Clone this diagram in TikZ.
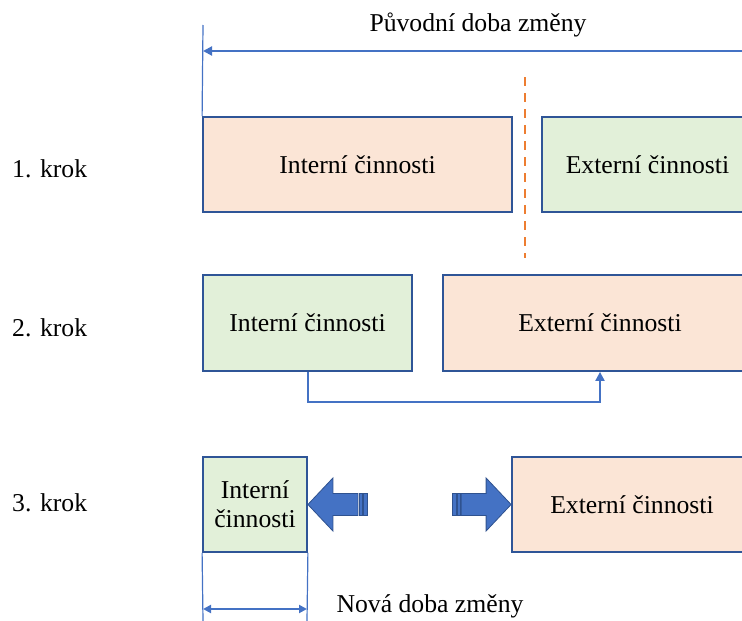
\documentclass[tikz,border=0pt]{standalone}
\usepackage{fontspec}
\setmainfont{Liberation Serif}
\newfontfamily\diagfont{Liberation Serif}
\usetikzlibrary{arrows.meta,calc}

\definecolor{boxline}{HTML}{2F5597}
\definecolor{conn}{HTML}{4472C4}
\definecolor{arrowline}{HTML}{2F528F}
\definecolor{fillorange}{HTML}{FBE5D6}
\definecolor{fillgreen}{HTML}{E2F0D9}
\definecolor{cut}{HTML}{ED7D31}

\tikzset{
  every node/.style={font=\diagfont\fontsize{25.7}{29}\selectfont, text=black},
  box/.style={draw=boxline, line width=1.8pt, inner sep=0pt, align=center},
  internal/.style={box, fill=fillorange},
  external/.style={box, fill=fillgreen},
  steplabel/.style={anchor=west, inner sep=0pt},
  link/.style={draw=conn, line width=2pt},
  guide/.style={draw=conn, line width=1.2pt},
  tip/.style={-{Triangle[length=9pt,width=9pt]}},
  blockarrow/.pic={
    \path[fill=conn, draw=arrowline, line width=0.8pt, line join=miter]
      (0,0) -- (25,-26.5) -- (25,-11) -- (50,-11) -- (50,11) -- (25,11) -- (25,26.5) -- cycle;
    \path[fill=conn, draw=arrowline, line width=0.8pt] (51,-11) rectangle (54,11);
    \path[fill=conn, draw=arrowline, line width=0.8pt] (55,-11) rectangle (59,11);
  }
}

\begin{document}
\begin{tikzpicture}[x=1pt, y=-1pt]
  \useasboundingbox (0,0) rectangle (742,621);

  % step labels
  \node[steplabel] (k1) at (12,169) {1. krok};
  \node[steplabel] (k2) at (12,328) {2. krok};
  \node[steplabel] (k3) at (12,503) {3. krok};

  % step 1
  \node[internal, minimum width=309, minimum height=95] (int1) at (357.5,164.5) {Interní činnosti};
  \node[external, minimum width=211, minimum height=95] (ext1) at (647.5,164.5) {Externí činnosti};

  % step 2
  \node[external, minimum width=209, minimum height=96] (int2) at (307.5,323) {Interní činnosti};
  \node[internal, minimum width=314, minimum height=96] (ext2) at (600,323) {Externí činnosti};

  % step 3
  \node[external, minimum width=104, minimum height=95] (int3) at (255,504.5) {Interní\\činnosti};
  \node[internal, minimum width=240, minimum height=95] (ext3) at (632,504.5) {Externí činnosti};

  % original changeover time
  \coordinate (origtop) at (203,25);
  \coordinate (origright) at (745,51);
  \coordinate (origleft) at (203,51);
  \node (orig) at (478,25) {Původní doba změny};
  \draw[guide] (origtop) -- (int1.north west);
  \draw[link, tip] (origright) -- (origleft);

  % split between internal and external work
  \coordinate (cuttop) at (525,77);
  \coordinate (cutbot) at (525,258);
  \draw[cut, line width=2pt, dash pattern=on 9pt off 7pt] (cuttop) -- (cutbot);

  % conversion of internal to external work
  \draw[link, tip] (int2.south) -- ++(0,30) -| (ext2.south);

  % block arrows shrinking the internal work
  \pic at (int3.east) {blockarrow};
  \pic[xscale=-1] at (ext3.west) {blockarrow};

  % new changeover time
  \coordinate (newl) at (203,621);
  \coordinate (newr) at (307,621);
  \coordinate (arrl) at (203,609);
  \coordinate (arrr) at (307,609);
  \draw[guide] (int3.south west) -- (newl);
  \draw[guide] (int3.south east) -- (newr);
  \draw[link, {Triangle[length=8pt,width=8pt]}-{Triangle[length=8pt,width=8pt]}] (arrl) -- (arrr);
  \node (new) at (430,606) {Nová doba změny};
\end{tikzpicture}
\end{document}
